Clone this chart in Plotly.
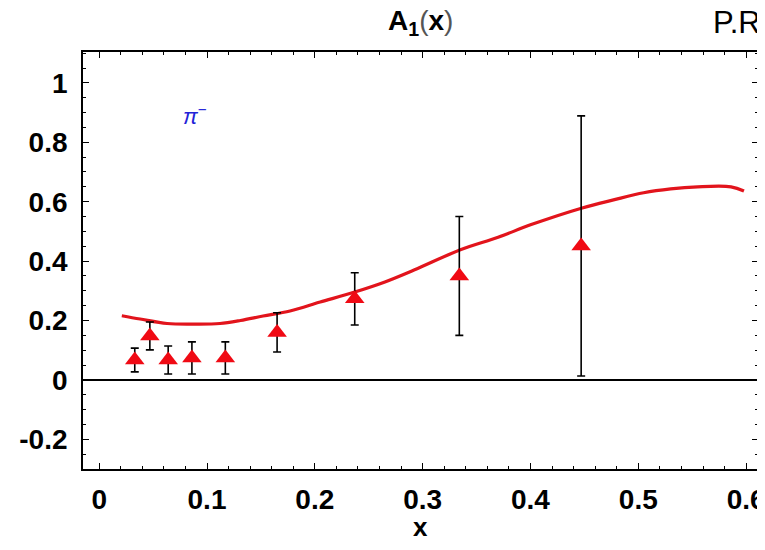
import plotly.graph_objects as go

# Data points (pi^- A1 measurements)
x_data = [0.033, 0.047, 0.064, 0.086, 0.117, 0.165, 0.237, 0.334, 0.447]
y_data = [0.067, 0.148, 0.067, 0.074, 0.074, 0.160, 0.273, 0.350, 0.451]
y_err = [0.040, 0.047, 0.047, 0.054, 0.054, 0.066, 0.088, 0.200, 0.438]

# Model curve
curve_x = [0.021, 0.038, 0.063, 0.090, 0.112, 0.131, 0.152, 0.177, 0.205, 0.237,
           0.265, 0.292, 0.335, 0.370, 0.400, 0.448, 0.477, 0.505, 0.530, 0.555,
           0.586, 0.598]
curve_y = [0.216, 0.205, 0.190, 0.188, 0.190, 0.200, 0.215, 0.232, 0.262, 0.296,
           0.330, 0.370, 0.438, 0.480, 0.522, 0.579, 0.606, 0.630, 0.643, 0.650,
           0.650, 0.636]

x_ticks = [0, 0.1, 0.2, 0.3, 0.4, 0.5, 0.6]
x_ticktext = ["0", "0.1", "0.2", "0.3", "0.4", "0.5", "0.6"]
y_ticks = [-0.2, 0, 0.2, 0.4, 0.6, 0.8, 1.0]
y_ticktext = ["-0.2", "0", "0.2", "0.4", "0.6", "0.8", "1"]

FONT = "Liberation Sans, Arial, sans-serif"
W, H = 765, 550
OFF = 8  # page body margin offset
ML, MR, MT, MB = 83 - OFF, 15, 52 - OFF, 89
PW, PH = W - ML - MR, H - MT - MB


def px_to_paper(px, py):
    # px, py in reference screen pixels
    return (px - OFF - ML) / PW, (H - MB - (py - OFF)) / PH


fig = go.Figure()
fig.add_trace(go.Scatter(
    x=curve_x, y=curve_y, mode="lines",
    line=dict(color="#e2141c", width=3.2, shape="spline"),
    showlegend=False, hoverinfo="skip"))
fig.add_trace(go.Scatter(
    x=x_data, y=y_data, mode="markers",
    marker=dict(symbol="triangle-up", size=17, color="#f00a14"),
    error_y=dict(type="data", array=y_err, color="black", thickness=1.6, width=4),
    showlegend=False))

fig.add_annotation(x=0.089, y=0.892, xref="x", yref="y",
                   text="<i>π</i><sup>−</sup>", showarrow=False,
                   font=dict(family=FONT, size=22, color="#2323d8"))

tx, ty = px_to_paper(420, 23)
fig.add_annotation(x=tx, y=ty, xref="paper", yref="paper", xanchor="center", yanchor="middle",
                   text="<b>A<sub>1</sub></b><span style='color:#555555'>(</span><b>x</b>"
                        "<span style='color:#555555'>)</span>",
                   showarrow=False,
                   font=dict(family=FONT, size=28, color="black"))

px_, py_ = px_to_paper(711, 23)
fig.add_annotation(x=px_, y=py_, xref="paper", yref="paper", xanchor="left", yanchor="middle",
                   text="P.R", showarrow=False,
                   font=dict(family=FONT, size=31, color="black"))

lx, ly = px_to_paper(420, 527)
fig.add_annotation(x=lx, y=ly, xref="paper", yref="paper", xanchor="center", yanchor="middle",
                   text="<b>x</b>", showarrow=False,
                   font=dict(family=FONT, size=26, color="black"))

fig.update_layout(
    width=W, height=H,
    margin=dict(l=ML, r=MR, t=MT, b=MB),
    plot_bgcolor="white", paper_bgcolor="white",
    font=dict(family=FONT, color="black"),
    xaxis=dict(
        range=[-0.015, 0.611], tickvals=x_ticks, ticktext=x_ticktext,
        ticks="inside", ticklen=6, tickwidth=1.2, tickcolor="black",
        minor=dict(ticks="inside", ticklen=3, dtick=0.02, tickcolor="black", tickwidth=1),
        showline=True, linecolor="black", linewidth=1.8, mirror="allticks",
        showgrid=False, zeroline=False, automargin=False, ticklabeloverflow="allow",
        tickfont=dict(family=FONT, size=28, weight="bold", color="black"),
        ticklabelstandoff=4,
    ),
    yaxis=dict(
        range=[-0.3, 1.104], tickvals=y_ticks, ticktext=y_ticktext,
        ticks="inside", ticklen=6, tickwidth=1.2, tickcolor="black",
        minor=dict(ticks="inside", ticklen=3, dtick=0.05, tickcolor="black", tickwidth=1),
        showline=True, linecolor="black", linewidth=1.8, mirror="allticks",
        showgrid=False, zeroline=True, zerolinecolor="black", zerolinewidth=1.6,
        automargin=False, ticklabeloverflow="allow",
        tickfont=dict(family=FONT, size=28, weight="bold", color="black"),
        ticklabelstandoff=8,
    ),
)

fig.write_html("out.html")
